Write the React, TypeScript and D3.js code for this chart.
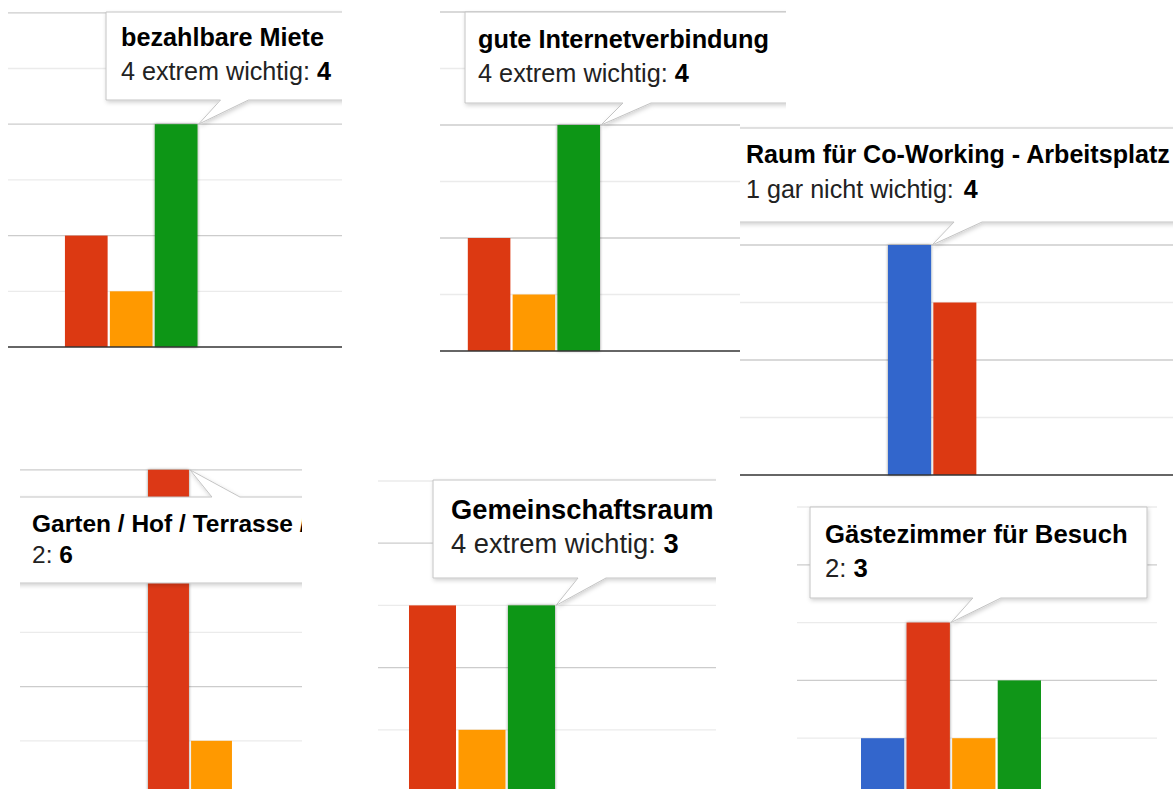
import * as d3 from "d3";
import React from "react";

// survey answers: how important is ... (count of answers per rating)
const categories = [
  "bezahlbare Miete",
  "gute Internetverbindung",
  "Raum für Co-Working - Arbeitsplatz",
  "Garten / Hof / Terrasse /",
  "Gemeinschaftsraum",
  "Gästezimmer für Besuch",
];
const seriesNames = ["1 gar nicht wichtig", "2", "3", "4 extrem wichtig"];
const gar_nicht = [0, 0, 4, 0, 0, 1];
const zwei = [2, 2, 3, 6, 3, 3];
const drei = [1, 1, 0, 1, 1, 1];
const extrem = [4, 4, 0, 0, 3, 2];
// which bar the tooltip is shown for in each crop
const hovered = [3, 3, 0, 1, 3, 1];
const yMax = [6, 6, 6, 6, 5, 5];

const colors = ["#3366cc", "#dc3912", "#ff9900", "#109618"];

// layout of the six screenshot crops (each one was zoomed a little differently)
const panels = [
  { clip: [8, 8, 334, 344], xr: [20, 197.5], yr: [347, 12.8], box: [106, 12, 360, 100], tx: 121, fs: 25.2, l1: 34, l2: 68, tail: "bottom" },
  { clip: [440, 8, 346, 347], xr: [423, 600], yr: [351, 12], box: [465, 12, 800, 103], tx: 478, fs: 25.3, l1: 36, l2: 70, tail: "bottom" },
  { clip: [740, 122, 433, 356], xr: [888, 1067], yr: [475, 130], box: [728, 128, 1190, 222], tx: 746, fs: 25.1, l1: 35, l2: 70, tail: "bottom" },
  { clip: [20, 462, 282, 327], xr: [105, 275], yr: [795, 469.8], box: [0, 497, 330, 583], tx: 32, fs: 24.5, l1: 35, l2: 66, tail: "top" },
  { clip: [378, 476, 338, 313], xr: [359.5, 555], yr: [792, 481], box: [433, 480, 740, 578], tx: 451, fs: 27.3, l1: 39, l2: 73, tail: "bottom" },
  { clip: [797, 500, 360, 289], xr: [861, 1041], yr: [796, 507], box: [810, 507, 1147, 598], tx: 825, fs: 25.7, l1: 36, l2: 70, tail: "bottom" },
];

const font = "'Liberation Sans', Arial, sans-serif";

function tooltipPath(box: number[], side: string, tip: [number, number]) {
  const [x0, y0, x1, y1] = box;
  const b0 = tip[0] + 22;
  const b1 = tip[0] + 50;
  if (side === "top") {
    return `M${x0},${y0}H${b0}L${tip[0]},${tip[1]}L${b1},${y0}H${x1}V${y1}H${x0}Z`;
  }
  return `M${x0},${y0}H${x1}V${y1}H${b1}L${tip[0]},${tip[1]}L${b0},${y1}H${x0}Z`;
}

const Panel: React.FC<{ i: number }> = ({ i }) => {
  const p = panels[i];
  const vals = [gar_nicht[i], zwei[i], drei[i], extrem[i]];
  const x = d3.scaleBand<number>().domain(d3.range(4)).range(p.xr as [number, number]).paddingInner(0.05).paddingOuter(0);
  const y = d3.scaleLinear().domain([0, yMax[i]]).range(p.yr);
  const [cx, cy, cw, ch] = p.clip;
  const h = hovered[i];
  const tip: [number, number] = [x(h)! + x.bandwidth() + 1, y(vals[h])];

  return (
    <g clipPath={`url(#clip${i})`}>
      <defs>
        <clipPath id={`clip${i}`}>
          <rect x={cx} y={cy} width={cw} height={ch} />
        </clipPath>
      </defs>
      <rect x={cx} y={cy} width={cw} height={ch} fill="#fff" />
      {y.ticks(yMax[i]).filter((t) => t > 0).map((t) => (
        <line key={t} x1={cx} x2={cx + cw} y1={y(t)} y2={y(t)} stroke={t % 2 === 0 ? "#cccccc" : "#ebebeb"} strokeWidth={1.3} />
      ))}
      {vals.map((v, k) =>
        v > 0 ? (
          <rect
            key={k}
            x={x(k)}
            y={y(v)}
            width={x.bandwidth()}
            height={y(0) - y(v)}
            fill={colors[k]}
            filter={k === h ? "url(#barShadow)" : undefined}
          />
        ) : null
      )}
      <line x1={cx} x2={cx + cw} y1={y(0)} y2={y(0)} stroke="#333" strokeWidth={1.4} />
      <path d={tooltipPath(p.box, p.tail, tip)} fill="#fff" stroke="#c4c4c4" strokeWidth={1} filter="url(#tipShadow)" />
      <text x={p.tx} y={p.box[1] + p.l1} fontFamily={font} fontSize={p.fs} fontWeight="bold" fill="#000">
        {categories[i]}
      </text>
      <text x={p.tx} y={p.box[1] + p.l2} fontFamily={font} fontSize={p.fs} fill="#222">
        {seriesNames[h]}:{" "}
        <tspan fontWeight="bold" fill="#000" dx={h === 0 ? 3 : 0}>{vals[h]}</tspan>
      </text>
    </g>
  );
};

export default function App() {
  return (
    <svg width={1173} height={789} style={{ position: "absolute", left: 0, top: 0, background: "#fff" }}>
      <defs>
        <filter id="tipShadow" x="-10%" y="-20%" width="120%" height="150%">
          <feDropShadow dx={1} dy={2} stdDeviation={2} floodColor="#000" floodOpacity={0.18} />
        </filter>
        <filter id="barShadow" x="-20%" y="-5%" width="140%" height="110%">
          <feDropShadow dx={0} dy={0} stdDeviation={1.5} floodColor="#000" floodOpacity={0.45} />
        </filter>
      </defs>
      <rect width={1173} height={789} fill="#fff" />
      {d3.range(6).map((i) => (
        <Panel key={i} i={i} />
      ))}
    </svg>
  );
}
